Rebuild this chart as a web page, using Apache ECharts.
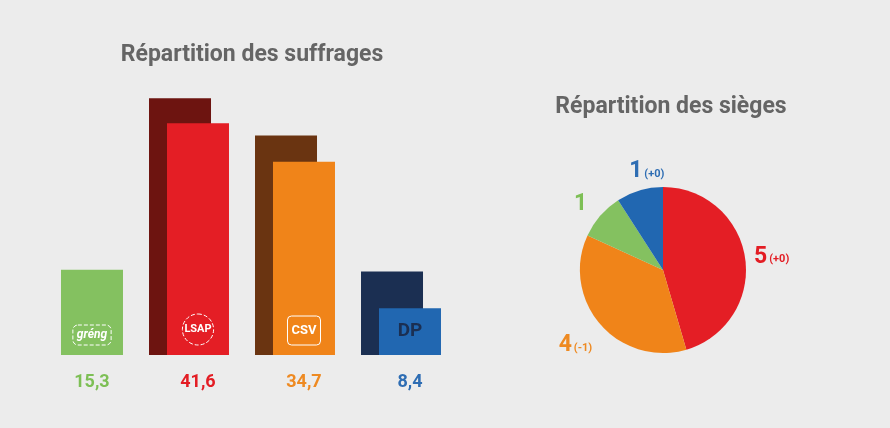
<!DOCTYPE html>
<html>
<head>
<meta charset="utf-8">
<script src="https://cdn.jsdelivr.net/npm/echarts@6/dist/echarts.min.js"></script>
<style>
  html, body { margin: 0; padding: 0; background: #ececec; }
  #chart { width: 890px; height: 428px; }
</style>
</head>
<body>
<div id="chart"></div>
<script>
// partis (ordre des barres)
var parties = ['déi gréng', 'LSAP', 'CSV', 'DP'];
var logos = ['gréng', 'LSAP', 'CSV', 'DP'];
// suffrages en %, élection actuelle
var votes = [15.3, 41.6, 34.7, 8.4];
// suffrages élection précédente (barre arrière), gréng sans barre
var votesPrev = [null, 46.1, 39.4, 15.0];
// sièges
var seats = [1, 5, 4, 1];
var seatChange = ['', '+0', '-1', '+0'];
// ordre des parts du camembert (sens horaire depuis le haut)
var pieOrder = [1, 2, 0, 3];

var frontColors = ['#84c160', '#e41e25', '#f08419', '#2167b1'];
var backColors = ['#84c160', '#6d1410', '#6a3411', '#1b2f52'];
var textColors = ['#7dbf55', '#e31d24', '#ee8a22', '#2e6db3'];

var font = 'Roboto';

// décalage des étiquettes du camembert (ordre du camembert)
var pieLabelShift = [[-6, 0], [5, 16], [0, -6], [34, -11]];

function fmt(v) {
  return String(v.toFixed(1)).replace('.', ',');
}

var myChart = echarts.init(document.getElementById('chart'));

var rich = {
  gap: { height: 26, lineHeight: 26 },
  lg0: { color: '#fff', fontSize: 12, fontWeight: 'bold', fontStyle: 'italic', fontFamily: font,
         borderColor: '#fff', borderWidth: 1, borderType: 'dashed', borderRadius: 5, padding: [4, 4] },
  lg1: { color: '#fff', fontSize: 11, fontWeight: 'bold', fontFamily: font,
         borderColor: '#fff', borderWidth: 1, borderType: 'dashed', borderRadius: 17, padding: [10, 2] },
  lg2: { color: '#fff', fontSize: 13, fontWeight: 'bold', fontFamily: font,
         borderColor: '#fff', borderWidth: 1, borderRadius: 4, padding: [8, 4] },
  lg3: { color: '#1b2f52', fontSize: 19, fontWeight: 'bold', fontFamily: font, padding: [4, 0] }
};
for (var i = 0; i < 4; i++) {
  rich['v' + i] = { color: textColors[i], fontSize: 18, fontWeight: 'bold', fontFamily: font, lineHeight: 22 };
}

var pieData = pieOrder.map(function (idx) {
  return {
    name: parties[idx],
    value: seats[idx],
    change: seatChange[idx],
    itemStyle: { color: frontColors[idx] },
    label: { rich: {
      n: { color: textColors[idx], fontSize: 23, fontWeight: 'bold', fontFamily: font },
      s: { color: textColors[idx], fontSize: 11, fontWeight: 'bold', fontFamily: font, padding: [5, 0, 0, 2] }
    } }
  };
});

var option = {
  backgroundColor: '#ececec',
  animation: false,
  title: [
    {
      text: 'Répartition des suffrages',
      left: 247, top: 39, textAlign: 'center',
      textStyle: { fontFamily: font, fontSize: 23, fontWeight: 'bold', color: '#656565' }
    },
    {
      text: 'Répartition des sièges',
      left: 666, top: 91, textAlign: 'center',
      textStyle: { fontFamily: font, fontSize: 23, fontWeight: 'bold', color: '#656565' }
    }
  ],
  grid: { left: 30, width: 424, top: 76.5, bottom: 73 },
  xAxis: {
    type: 'category',
    data: parties,
    axisLine: { show: false },
    axisTick: { show: false },
    axisLabel: { show: false }
  },
  yAxis: {
    type: 'value',
    min: 0, max: 50,
    show: false,
    splitLine: { show: false }
  },
  series: [
    {
      name: 'précédent',
      type: 'bar',
      barWidth: 62,
      barGap: '-71%',
      data: votesPrev.map(function (v, i) {
        return { value: v, itemStyle: { color: backColors[i] } };
      })
    },
    {
      name: 'actuel',
      type: 'bar',
      barWidth: 62,
      data: votes.map(function (v, i) {
        return { value: v, itemStyle: { color: frontColors[i] } };
      }),
      label: {
        show: true,
        position: 'insideBottom',
        distance: 6,
        offset: [0, 44],
        align: 'center',
        formatter: function (p) {
          var i = p.dataIndex;
          return '{lg' + i + '|' + logos[i] + '}\n{gap|}\n{v' + i + '|' + fmt(p.value) + '}';
        },
        rich: rich
      }
    },
    {
      name: 'sièges',
      type: 'pie',
      center: [663, 270],
      radius: 83,
      startAngle: 90,
      clockwise: true,
      data: pieData,
      label: {
        position: 'outside',
        formatter: function (p) {
          var c = p.data.change;
          return '{n|' + p.value + '}' + (c ? '{s|(' + c + ')}' : '');
        }
      },
      labelLine: { show: false, length: 8, length2: 2 },
      labelLayout: function (p) {
        var s = pieLabelShift[p.dataIndex];
        return { dx: s[0], dy: s[1] };
      }
    }
  ]
};

myChart.setOption(option);
</script>
</body>
</html>
